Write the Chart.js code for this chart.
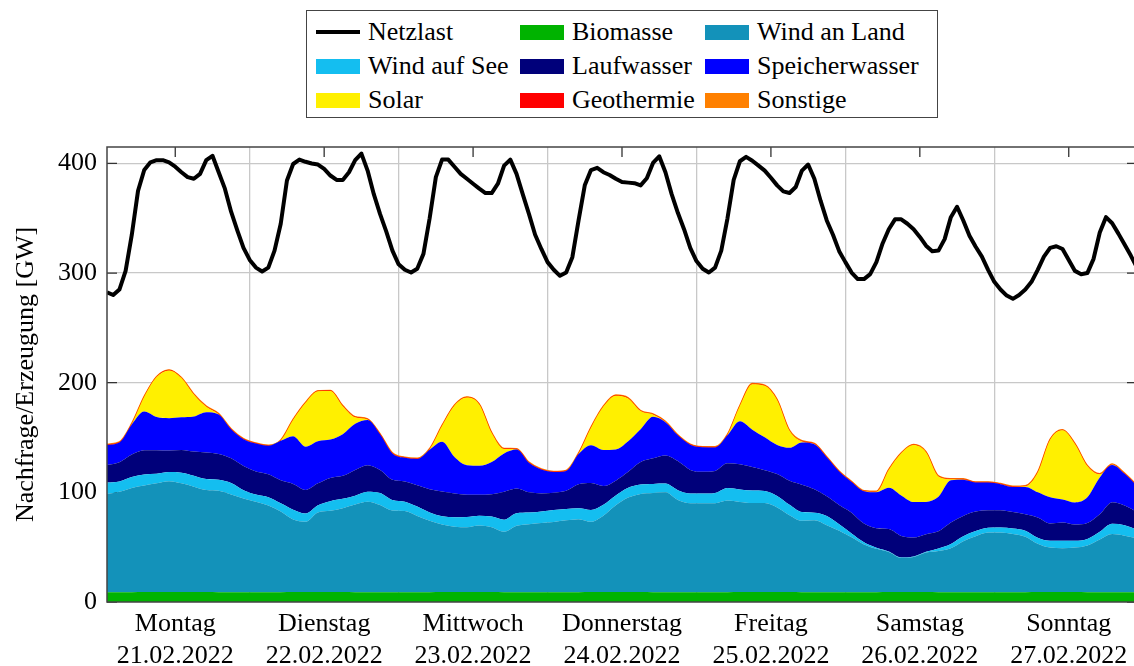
<!DOCTYPE html>
<html lang="de">
<head>
<meta charset="utf-8">
<title>Netzlast und Erzeugung 21.02.–27.02.2022</title>
<script src="https://cdn.jsdelivr.net/npm/chart.js@4.4.1/dist/chart.umd.min.js"></script>
<style>
  html, body { margin: 0; padding: 0; background: #fff; overflow: hidden; }
  #wrap { position: relative; width: 1134px; height: 666px; overflow: hidden; }
  #chart { position: absolute; left: 0; top: 0; }
  #legend {
    position: absolute; left: 306px; top: 10px; width: 632px; height: 108px;
    box-sizing: border-box; border: 1.5px solid #444; background: #fff;
    padding: 4px 0 0 9px;
    display: grid; grid-template-columns: 204px 185px auto; grid-auto-rows: 34px;
    font-family: 'Liberation Serif', serif; font-size: 26px; color: #000;
  }
  .item { display: flex; align-items: center; white-space: nowrap; }
  .sw { display: inline-block; width: 44px; height: 15px; margin-right: 8px; }
  .sw.line { height: 4px; background: #000; }
</style>
</head>
<body>
<div id="wrap">
  <canvas id="chart" width="1140" height="666"></canvas>
  <div id="legend"></div>
</div>
<script>
// days shown on the x axis
var dayNames = ['Montag', 'Dienstag', 'Mittwoch', 'Donnerstag', 'Freitag', 'Samstag', 'Sonntag'];
var dayDates = ['21.02.2022', '22.02.2022', '23.02.2022', '24.02.2022', '25.02.2022', '26.02.2022', '27.02.2022'];
var yTicks = [0, 100, 200, 300, 400];

// hours since Monday 00:00
var loadHours = Array.from({ length: 167 }, function(_, i) { return 1 + i; });
var stackHours = Array.from({ length: 84 }, function(_, i) { return 1 + 2 * i; });

// Netzlast [GW], hourly
var netzlast = [
  282.5, 280, 285, 302, 335, 375, 394, 401, 403, 403, 401, 397,
  392, 387.5, 386, 390.5, 403, 407, 392, 377, 356, 339, 323, 312,
  305, 301.5, 305, 320.5, 345, 384.5, 399.5, 403.5, 401.5, 400, 399, 395,
  389, 385, 385, 392, 403, 409, 393.5, 372, 354, 338, 320.5, 308,
  303, 300.5, 304, 317.5, 350, 387.5, 403.5, 403.5, 397, 390.5, 386, 381.5,
  377, 373, 373, 381.5, 398, 403.5, 390.5, 372, 354, 335, 322, 310,
  303, 297.5, 300.5, 314.5, 348, 380, 394, 396, 392, 389.5, 386, 383,
  382.5, 382, 380, 386.5, 400.5, 406.5, 392, 372, 355, 340, 323, 311,
  304, 300.5, 305, 320.5, 350, 385, 402, 406, 402.5, 398, 393.5, 387,
  380, 374.5, 373, 378.5, 393.5, 399, 386, 366, 348, 335, 320, 310,
  300.5, 294.5, 294.5, 299, 310, 327, 340, 349, 349, 345, 340, 333,
  325, 320, 320.5, 331, 351, 360.5, 348, 334, 324, 315, 303, 292,
  285, 279.5, 276.5, 280, 285, 292, 303, 315, 323, 324.5, 322, 312,
  302, 299, 300, 313, 337, 351, 345.5, 336, 326, 316, 305
];

// generation [GW], every two hours
var biomasse = [
  9, 9, 9, 9.2, 9.2, 9.2, 9.2, 9.2, 9.1, 9, 9, 9,
  9, 9, 9, 9.2, 9.2, 9.2, 9.2, 9.1, 9, 9, 9, 9,
  9, 9, 9, 9.2, 9.2, 9.2, 9.2, 9.1, 9, 9, 9, 9,
  9, 9, 9, 9.2, 9.2, 9.2, 9.2, 9.1, 9, 9, 9, 9,
  9, 9, 9, 9.2, 9.2, 9.2, 9.2, 9.1, 9, 9, 9, 9,
  9, 9, 9, 9.1, 9.1, 9.1, 9.1, 9, 9, 9, 9, 9,
  9, 9, 9, 9.1, 9.1, 9.1, 9.1, 9, 9, 9, 9, 9
];
var windLand = [
  89.5, 91.5, 95, 97, 99, 101, 99, 96, 93, 92.5, 89, 85.5,
  82.5, 79, 73.5, 66, 64, 72.5, 74, 76.5, 80, 82.5, 79.5, 74.5,
  74, 69.5, 65, 61.5, 59.5, 59, 60.5, 59, 55, 60.5, 62, 63,
  64, 65.5, 66.5, 64, 69.5, 79, 86, 89.5, 90.5, 91, 84, 81,
  81, 81, 83.5, 82, 81, 81, 77, 70, 65, 65.5, 61, 56,
  50, 43.5, 39.5, 36.5, 31, 32, 36, 37.5, 40, 46.5, 51, 54.5,
  54.5, 53, 50.5, 44, 40.5, 40, 40.5, 42.5, 48, 53, 51.5, 49
];
var windSee = [
  10.5, 9.5, 10, 10.2, 8.7, 8.3, 9.8, 10, 10, 10, 10.5, 7.5,
  6.5, 7.5, 7.5, 9, 7.5, 6.5, 8.8, 8.5, 8, 9, 11, 9.5,
  8.5, 8.5, 7.6, 7.5, 8.5, 9.3, 9, 9.8, 11, 11.4, 10.6, 10.6,
  10.8, 10.4, 10, 10.8, 10, 9, 9, 8.5, 8.2, 8, 9, 9,
  8.9, 9.5, 11.5, 11.5, 11.4, 11, 10.5, 9.5, 8, 7, 8.5, 6,
  3.5, 2, 1, 0.5, 0.5, 0.5, 0.7, 2.3, 4, 4.5, 4.7, 4.3,
  4.5, 5, 5.5, 5.5, 6.2, 6.7, 6.2, 6, 7, 9.3, 9.5, 8
];
var laufwasser = [
  16, 17.5, 20.5, 22, 21.6, 19.7, 20.7, 22, 24.3, 23.5, 22.5, 22,
  21, 21, 21, 23.5, 21.5, 20, 21.2, 21, 23.5, 24.3, 21, 18.5,
  18.5, 19.5, 21.3, 22.5, 21.7, 20.4, 19.2, 20.4, 25.5, 22.6, 18.4, 16.4,
  15.9, 16.6, 21.9, 24.5, 17, 13.5, 14.5, 20.5, 23.3, 25.7, 26.5, 21.5,
  19.8, 20, 22.5, 23, 21.6, 19, 20, 22, 25, 21.4, 18, 17.5,
  19, 17, 17.8, 20.5, 19.7, 17.2, 16.1, 15.7, 19.5, 18.5, 17.8, 15.9,
  15.7, 15, 15, 18.5, 15.9, 16.7, 14.8, 14.5, 16, 19.7, 18, 16
];
var speicherwasser = [
  18.3, 18, 27.5, 35.3, 30.2, 29.5, 29.8, 32, 36.7, 36, 26.5, 24.5,
  25.5, 26, 36, 43.5, 39.5, 38.5, 35, 38, 42, 41.2, 32.5, 24,
  21.5, 24, 36, 45.5, 33.3, 26.8, 26.3, 29.3, 35, 35.5, 27, 21.8,
  18.8, 18, 27.5, 34.5, 33, 28.5, 28, 30, 38, 30.3, 23.5, 23,
  22.5, 21.5, 25.5, 39.2, 34, 30, 26.5, 30, 38.5, 41, 35.5, 30.5,
  28, 29.5, 32.7, 37.5, 36.8, 32.3, 29.4, 31.5, 38.5, 33, 26.5, 25.3,
  23.8, 23, 25, 23, 23.9, 21.1, 20.2, 23.5, 33.5, 34, 29, 24
];
var solar = [
  0, 0, 0.5, 13.5, 36.5, 43.5, 35.7, 20, 5, 0.3, 0, 0,
  0, 0, 0.3, 15, 40, 45.5, 44.3, 25.5, 6, 0.5, 0, 0,
  0, 0, 0.5, 14.5, 47, 61.8, 56, 26.5, 4, 0.3, 0, 0,
  0, 0, 0.5, 16, 39.5, 49, 39, 16.5, 2, 0.3, 0, 0,
  0, 0, 0.5, 14, 41.5, 47, 41, 15.5, 1, 0.3, 0, 0,
  0, 0, 0.5, 16.5, 38.5, 52, 45.3, 18.5, 1, 0.3, 0, 0,
  0, 0, 0.5, 18, 52.5, 63, 53.3, 28.5, 3, 0.3, 0, 0
];
var geothermie = stackHours.map(function() { return 0.2; });
var sonstige = stackHours.map(function() { return 0.4; });

function pts(xs, ys) {
  return ys.map(function(v, i) { return { x: xs[i], y: v }; });
}

function area(label, values, color, fill) {
  return {
    label: label,
    data: pts(stackHours, values),
    backgroundColor: color,
    borderColor: 'rgba(0,0,0,0)',
    borderWidth: 0,
    pointRadius: 0,
    cubicInterpolationMode: 'monotone',
    fill: fill,
    stack: 'gen'
  };
}

var datasets = [
  {
    label: 'Netzlast',
    data: pts(loadHours, netzlast),
    borderColor: '#000',
    borderWidth: 4,
    pointRadius: 0,
    fill: false,
    stack: 'load',
    borderJoinStyle: 'round'
  },
  area('Biomasse', biomasse, '#00b300', 'origin'),
  area('Wind an Land', windLand, '#1392ba', '-1'),
  area('Wind auf See', windSee, '#14bef0', '-1'),
  area('Laufwasser', laufwasser, '#00007a', '-1'),
  area('Speicherwasser', speicherwasser, '#0000ff', '-1'),
  area('Solar', solar, '#fff000', '-1'),
  area('Geothermie', geothermie, '#ff0000', '-1'),
  area('Sonstige', sonstige, '#ff8000', '-1')
];
datasets[7].borderColor = '#ff2000';
datasets[7].borderWidth = 0.8;
datasets[8].borderColor = '#ff8000';
datasets[8].borderWidth = 1.3;

Chart.defaults.font.family = "'Liberation Serif', serif";
Chart.defaults.font.size = 26;
Chart.defaults.color = '#000';

// axis frame and inner tick marks like the original plot
var frame = {
  id: 'frame',
  beforeDatasetsDraw: function(chart) {
    var ctx = chart.ctx, a = chart.chartArea, y = chart.scales.y;
    ctx.save();
    ctx.strokeStyle = '#333';
    ctx.lineWidth = 1.3;
    ctx.beginPath();
    yTicks.forEach(function(v) {
      var py = y.getPixelForValue(v);
      ctx.moveTo(a.left, py); ctx.lineTo(a.left + 10, py);
      ctx.moveTo(a.right - 10, py); ctx.lineTo(a.right, py);
    });
    ctx.stroke();
    ctx.restore();
  },
  afterDatasetsDraw: function(chart) {
    var ctx = chart.ctx, a = chart.chartArea, x = chart.scales.x;
    ctx.save();
    ctx.strokeStyle = '#333';
    ctx.lineWidth = 1.3;
    ctx.beginPath();
    dayNames.forEach(function(_, i) {
      var px = x.getPixelForValue(12 + 24 * i);
      ctx.moveTo(px, a.top); ctx.lineTo(px, a.top + 10);
    });
    ctx.stroke();
    ctx.strokeStyle = '#444';
    ctx.lineWidth = 1.5;
    ctx.strokeRect(a.left, a.top, a.right - a.left, a.bottom - a.top);
    ctx.restore();
  }
};

var chart = new Chart(document.getElementById('chart'), {
  type: 'line',
  data: { datasets: datasets },
  options: {
    responsive: false,
    animation: false,
    events: [],
    layout: { padding: { top: 147, right: 3, left: 0, bottom: 0 } },
    plugins: { legend: { display: false }, tooltip: { enabled: false } },
    scales: {
      x: {
        type: 'linear',
        min: 1,
        max: 167,
        afterBuildTicks: function(scale) {
          var t = [];
          for (var v = 12; v <= 156; v += 12) t.push({ value: v });
          scale.ticks = t;
        },
        afterFit: function(scale) { scale.height = 64; },
        border: { display: false },
        grid: {
          drawTicks: false,
          lineWidth: 1.3,
          color: function(c) {
            return c.tick && c.tick.value % 24 === 0 ? '#c8c8c8' : 'rgba(0,0,0,0)';
          }
        },
        ticks: {
          autoSkip: false,
          maxRotation: 0,
          padding: 7,
          callback: function(value) {
            if (value % 24 !== 12) return '';
            var i = (value - 12) / 24;
            return [dayNames[i], dayDates[i]];
          }
        }
      },
      y: {
        stacked: true,
        min: 0,
        max: 415,
        afterFit: function(scale) { scale.width = 107; },
        border: { display: false },
        grid: {
          drawTicks: false,
          lineWidth: 1.3,
          color: function(c) {
            return c.tick && c.tick.value > 0 ? '#c8c8c8' : 'rgba(0,0,0,0)';
          }
        },
        ticks: { stepSize: 100, includeBounds: false, padding: 10 },
        title: {
          display: true,
          text: 'Nachfrage/Erzeugung [GW]',
          padding: { top: 11, bottom: 0 }
        }
      }
    }
  },
  plugins: [frame]
});

// legend in three columns, built from the chart's datasets
var legendBox = document.getElementById('legend');
chart.data.datasets.forEach(function(ds) {
  var item = document.createElement('div');
  item.className = 'item';
  var sw = document.createElement('span');
  sw.className = 'sw';
  if (ds.fill === false) {
    sw.className += ' line';
  } else {
    sw.style.background = ds.backgroundColor;
  }
  item.appendChild(sw);
  item.appendChild(document.createTextNode(ds.label));
  legendBox.appendChild(item);
});
</script>
</body>
</html>
